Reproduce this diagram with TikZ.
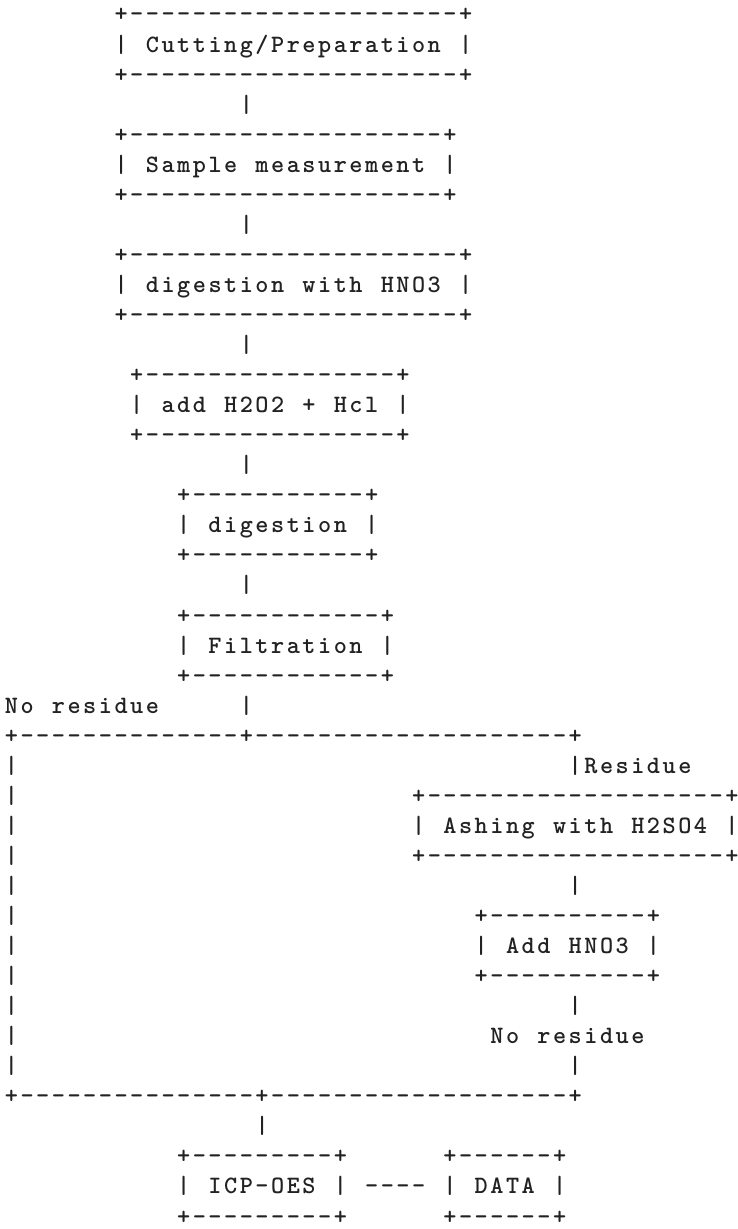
\documentclass[tikz,border=0pt]{standalone}
\usepackage{xcolor}
\definecolor{inkc}{HTML}{222222}
\newlength\cellw
\setlength\cellw{15.66pt}
\ExplSyntaxOn
\NewDocumentCommand\asc{m}{\str_map_inline:nn {#1}{\makebox[\cellw][c]{##1}}}
\ExplSyntaxOff
\newcommand\asciifont{\fontsize{25}{30}\ttfamily\bfseries}
\tikzset{ascii/.style={anchor=base west, inner sep=0pt, outer sep=0pt, font=\asciifont, text=inkc}}
\newcommand\seg[4]{\node[ascii] (#1) at (#2-0.5,#3-0.85) {\asc{#4}};}
\begin{document}
\begin{tikzpicture}
\fill[white] (0,0) rectangle (738pt,1229pt);
\useasboundingbox (0,0) rectangle (738pt,1229pt);
\begin{scope}[x=15.66pt, y=-30.05pt, shift={(11.5pt,1211.5pt)}]
% Cutting/Preparation
\seg{cutT}{7}{1}{+---------------------+}
\seg{cut}{7}{2}{| Cutting/Preparation |}
\seg{cutB}{7}{3}{+---------------------+}
\seg{c1}{15}{4}{|}
% Sample measurement
\seg{samT}{7}{5}{+--------------------+}
\seg{sam}{7}{6}{| Sample measurement |}
\seg{samB}{7}{7}{+--------------------+}
\seg{c2}{15}{8}{|}
% digestion with HNO3
\seg{dhT}{7}{9}{+---------------------+}
\seg{dh}{7}{10}{| digestion with HNO3 |}
\seg{dhB}{7}{11}{+---------------------+}
\seg{c3}{15}{12}{|}
% add H2O2 + Hcl
\seg{addT}{8}{13}{+----------------+}
\seg{add}{8}{14}{| add H2O2 + Hcl |}
\seg{addB}{8}{15}{+----------------+}
\seg{c4}{15}{16}{|}
% digestion
\seg{digT}{11}{17}{+-----------+}
\seg{dig}{11}{18}{| digestion |}
\seg{digB}{11}{19}{+-----------+}
\seg{c5}{15}{20}{|}
% Filtration
\seg{filT}{11}{21}{+------------+}
\seg{fil}{11}{22}{| Filtration |}
\seg{filB}{11}{23}{+------------+}
\seg{nores1}{0}{24}{No residue}
\seg{c6}{15}{24}{|}
\seg{split}{0}{25}{+--------------+--------------------+}
% left branch bars
\foreach \r in {26,...,36} {\seg{lb\r}{0}{\r}{|}}
% residue branch
\seg{res}{36}{26}{|Residue}
\seg{ashT}{26}{27}{+-------------------+}
\seg{ash}{26}{28}{| Ashing with H2SO4 |}
\seg{ashB}{26}{29}{+-------------------+}
\seg{c7}{36}{30}{|}
\seg{hnoT}{30}{31}{+----------+}
\seg{hno}{30}{32}{| Add HNO3 |}
\seg{hnoB}{30}{33}{+----------+}
\seg{c8}{36}{34}{|}
\seg{nores2}{31}{35}{No residue}
\seg{c9}{36}{36}{|}
\seg{join}{0}{37}{+---------------+-------------------+}
\seg{c10}{16}{38}{|}
% ICP-OES and DATA
\seg{icpT}{11}{39}{+---------+}
\seg{icp}{11}{40}{| ICP-OES |}
\seg{icpB}{11}{41}{+---------+}
\seg{link}{23}{40}{----}
\seg{datT}{28}{39}{+------+}
\seg{dat}{28}{40}{| DATA |}
\seg{datB}{28}{41}{+------+}
\end{scope}
\end{tikzpicture}
\end{document}
